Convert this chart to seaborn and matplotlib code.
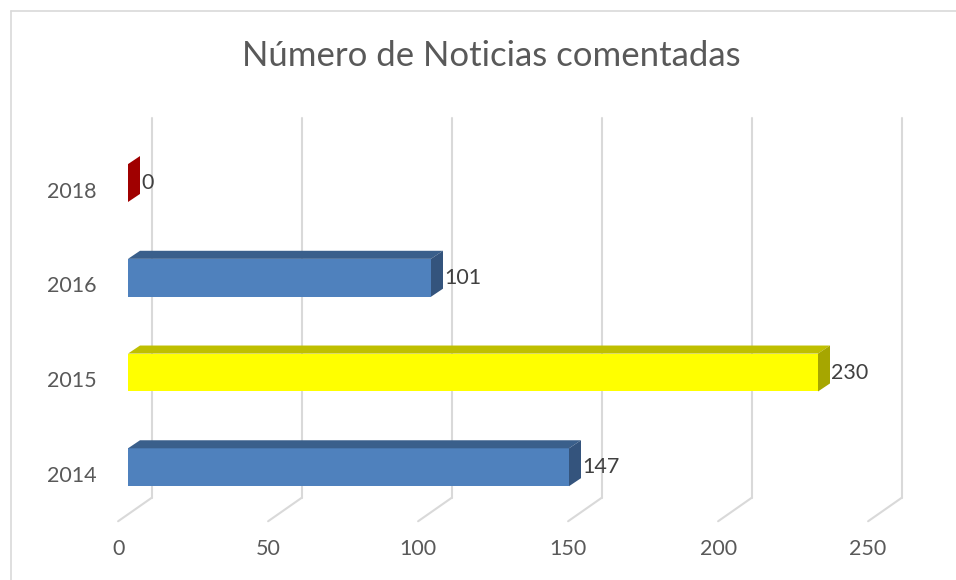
import matplotlib.pyplot as plt
import matplotlib.patches as mpatches
import pandas as pd
import seaborn as sns

years = ['2018', '2016', '2015', '2014']
counts = [0, 101, 230, 147]
front_colors = ['#A50000', '#4F81BD', '#FFFF00', '#4F81BD']
top_colors = ['#7A0000', '#3A5F8B', '#BFBF00', '#3A5F8B']
side_colors = ['#A00000', '#34547D', '#A6A600', '#34547D']
xticks = [0, 50, 100, 150, 200, 250]

df = pd.DataFrame({'Year': years, 'Count': counts})

sns.set_style('white')
plt.rcParams['font.family'] = ['Lato', 'DejaVu Sans']

fig = plt.figure(figsize=(9.56, 5.8), dpi=100)
W, H = 956, 580
# axes: x=-10 at px 98, x=270 at px 938; y=-0.75 at px 112, y=3.62 at px 526
ax = fig.add_axes([98 / W, 1 - 526 / H, 840 / W, 414 / H])

sns.barplot(data=df, y='Year', x='Count', orient='h', order=years,
            palette=front_colors, hue='Year', legend=False, width=0.4,
            saturation=1, linewidth=0, edgecolor='none', ax=ax, zorder=3)
ax.set_xlim(-10, 270)
ax.set_ylim(3.62, -0.75)
ax.axis('off')

# 3D depth in data units
dx, dy = 4.0, -0.085
grid_c = '#D9D9D9'
back_off = 8.0
for t in xticks:
    ax.plot([t + back_off, t + back_off], [-0.69, 3.32], color=grid_c, lw=1.5, zorder=1)
    ax.plot([t + back_off, t - 3.3], [3.32, 3.57], color=grid_c, lw=1.5, zorder=1)
    ax.text(t - 3.3, 3.86, str(t), ha='center', va='center', fontsize=15.5, color='#595959')

for i, bar in enumerate(ax.patches):
    x0 = bar.get_x()
    w = bar.get_width()
    y0 = bar.get_y()
    h = bar.get_height()
    ytop = y0
    top = mpatches.Polygon([(x0, ytop), (x0 + w, ytop), (x0 + w + dx, ytop + dy), (x0 + dx, ytop + dy)],
                           closed=True, facecolor=top_colors[i], edgecolor='none', zorder=4)
    side = mpatches.Polygon([(x0 + w, ytop), (x0 + w + dx, ytop + dy), (x0 + w + dx, ytop + h + dy), (x0 + w, ytop + h)],
                            closed=True, facecolor=side_colors[i], edgecolor='none', zorder=4)
    ax.add_patch(top)
    ax.add_patch(side)
    ax.text(x0 + w + dx + 0.5, y0 + h / 2, str(counts[i]), ha='left', va='center',
            fontsize=15.5, color='#404040', zorder=5)

for i, y in enumerate(years):
    ax.text(-10.5, i + 0.09, y, ha='right', va='center', fontsize=15.5, color='#595959')

fig.text(491 / W, 1 - 56 / H, 'Número de Noticias comentadas', ha='center', va='center',
         fontsize=25, color='#595959')

# chart border
fig.add_artist(plt.Line2D([10.5 / W, 1], [1 - 11 / H, 1 - 11 / H], color='#D9D9D9', lw=1.2))
fig.add_artist(plt.Line2D([10.5 / W, 10.5 / W], [0, 1 - 11 / H], color='#D9D9D9', lw=1.2))

fig.savefig('out.png', dpi=100)
